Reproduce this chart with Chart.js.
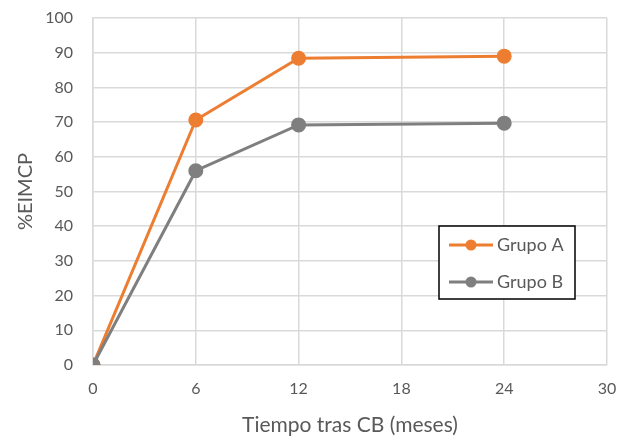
<!DOCTYPE html>
<html>
<head>
<meta charset="utf-8">
<script src="https://cdn.jsdelivr.net/npm/chart.js@4"></script>
<style>
  html, body { margin: 0; padding: 0; background: #fff; }
  #wrap { width: 634px; height: 436px; }
</style>
</head>
<body>
<div id="wrap"><canvas id="chart" width="634" height="436"></canvas></div>
<script>
// data
const months = [0, 6, 12, 24];
const grupoA = [0, 70.6, 88.4, 89.0];
const grupoB = [0, 56.0, 69.2, 69.7];
const seriesNames = ['Grupo A', 'Grupo B'];
const xTicks = [0, 6, 12, 18, 24, 30];

const orange = '#ED7D31';
const gray = '#7F7F7F';
const textColor = '#595959';
const gridColor = '#D9D9D9';
const fontFamily = 'Lato, "Open Sans", sans-serif';

// legend box drawn inside the plot, like the original
const boxLegend = {
  id: 'boxLegend',
  afterDraw(chart) {
    const ctx = chart.ctx;
    const x = 439, y = 226, w = 136, h = 73;
    ctx.save();
    ctx.fillStyle = '#fff';
    ctx.fillRect(x, y, w, h);
    ctx.strokeStyle = '#000';
    ctx.lineWidth = 1.5;
    ctx.strokeRect(x, y, w, h);
    chart.data.datasets.forEach((ds, i) => {
      const ly = y + 19 + i * 37;
      ctx.strokeStyle = ds.borderColor;
      ctx.lineWidth = 3;
      ctx.beginPath();
      ctx.moveTo(x + 10, ly);
      ctx.lineTo(x + 54, ly);
      ctx.stroke();
      ctx.fillStyle = ds.borderColor;
      ctx.beginPath();
      ctx.arc(x + 32, ly, 5.5, 0, Math.PI * 2);
      ctx.fill();
      ctx.fillStyle = textColor;
      ctx.font = '18px ' + fontFamily;
      ctx.textBaseline = 'middle';
      ctx.textAlign = 'left';
      ctx.fillText(ds.label, x + 58, ly);
    });
    ctx.restore();
  }
};

const ctx = document.getElementById('chart').getContext('2d');
new Chart(ctx, {
  type: 'line',
  data: {
    datasets: [
      {
        label: seriesNames[0],
        data: months.map((m, i) => ({ x: m, y: grupoA[i] })),
        borderColor: orange,
        backgroundColor: orange,
        borderWidth: 3,
        pointRadius: 6,
        pointHoverRadius: 6,
        order: 1,
        fill: false
      },
      {
        label: seriesNames[1],
        data: months.map((m, i) => ({ x: m, y: grupoB[i] })),
        borderColor: gray,
        backgroundColor: gray,
        borderWidth: 3,
        pointRadius: 6,
        pointHoverRadius: 6,
        order: 0,
        fill: false
      }
    ]
  },
  options: {
    responsive: false,
    animation: false,
    layout: { padding: { top: 18, right: 27, left: 0, bottom: 0 } },
    plugins: {
      legend: { display: false },
      tooltip: { enabled: false }
    },
    scales: {
      x: {
        type: 'linear',
        min: 0,
        max: 30,
        afterBuildTicks: (scale) => { scale.ticks = xTicks.map(v => ({ value: v })); },
        afterFit: (scale) => { scale.height = 71; },
        grid: { color: gridColor, lineWidth: 1.5, drawTicks: false },
        border: { color: gridColor, width: 1.5 },
        ticks: { color: textColor, font: { size: 16, family: fontFamily }, padding: 14, maxRotation: 0 },
        title: {
          display: true,
          text: 'Tiempo tras CB (meses)',
          color: textColor,
          font: { size: 21, family: fontFamily, lineHeight: 1 },
          padding: 0
        }
      },
      y: {
        min: 0,
        max: 100,
        // tick padding would otherwise push the plot top down
        afterFit: (scale) => { scale.width = 93; scale.paddingTop = 0; scale.paddingBottom = 0; },
        grid: { color: gridColor, lineWidth: 1.5, drawTicks: false },
        border: { color: gridColor, width: 1.5 },
        ticks: { stepSize: 10, color: textColor, font: { size: 16, family: fontFamily }, padding: 20 },
        title: {
          display: true,
          text: '%EIMCP',
          color: textColor,
          font: { size: 20, family: fontFamily, lineHeight: 1 },
          padding: { top: 16, bottom: 0 }
        }
      }
    }
  },
  plugins: [boxLegend]
});
</script>
</body>
</html>
